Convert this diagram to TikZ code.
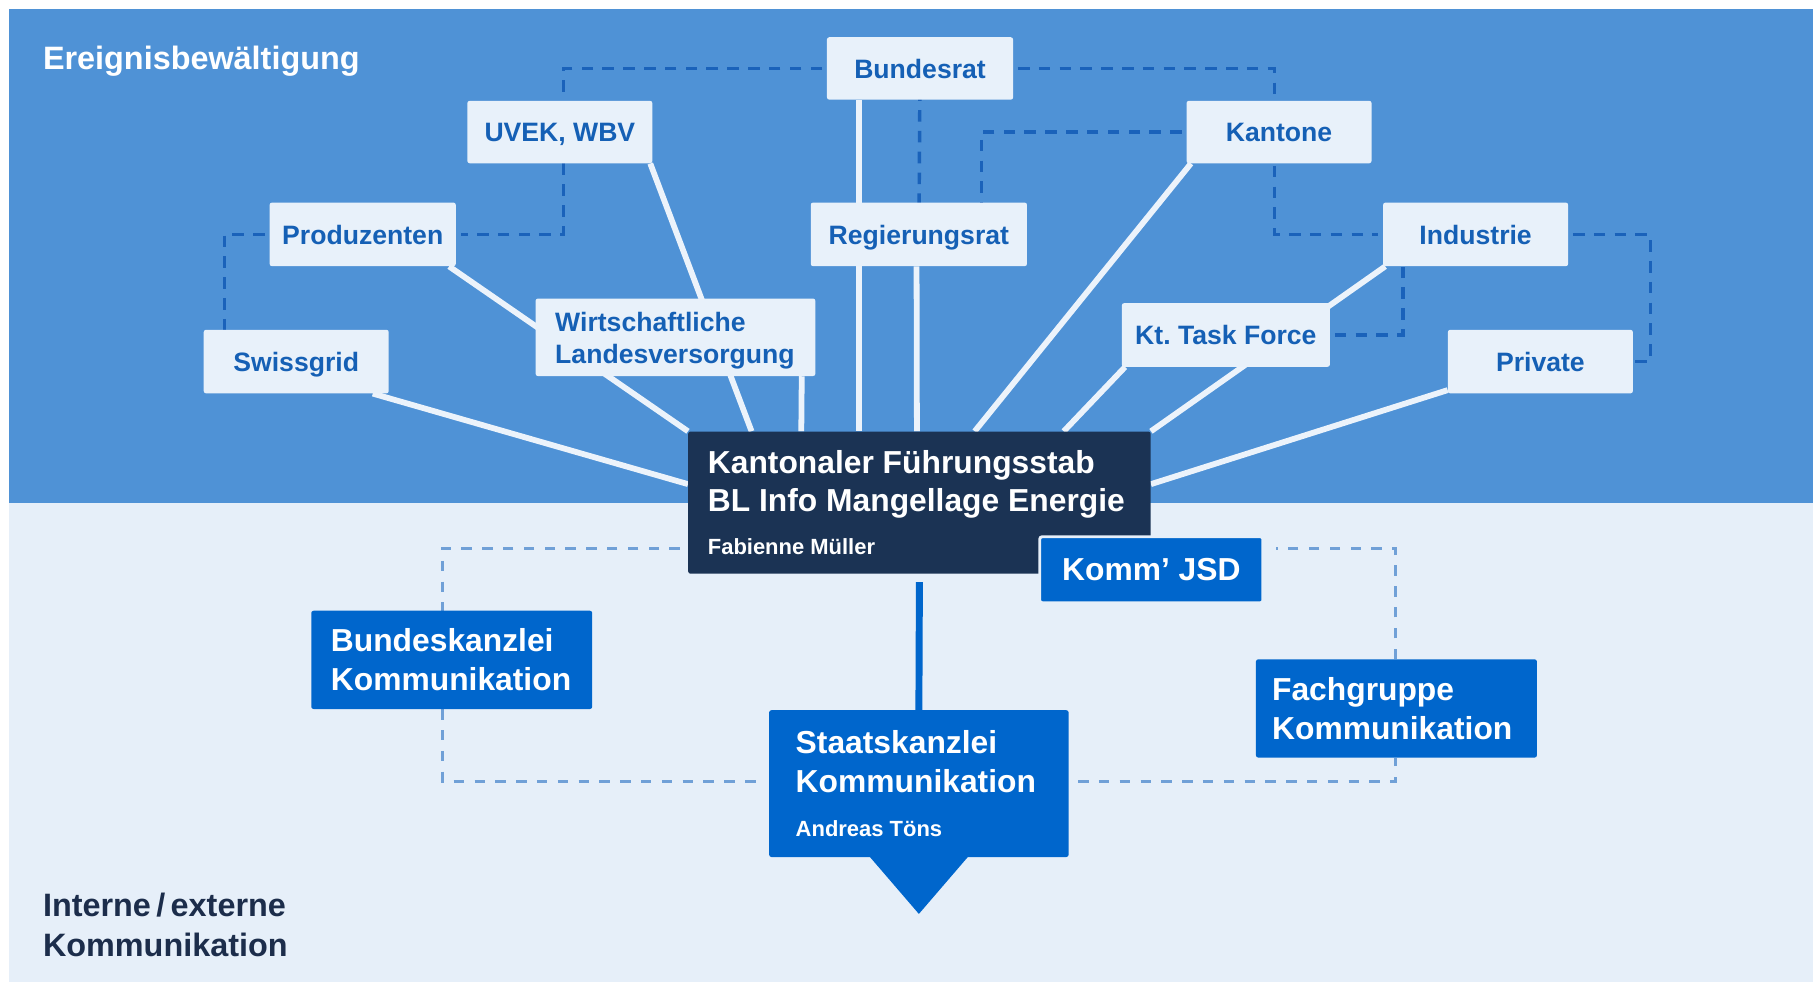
\documentclass[tikz,border=0pt]{standalone}
\usepackage{fontspec}
\setmainfont{Liberation Sans}
\usetikzlibrary{calc}
\setlength{\parindent}{0pt}
\hyphenpenalty=10000 \exhyphenpenalty=10000
\frenchspacing
\newcommand{\normsp}{\spaceskip=0pt\xspaceskip=0pt\relax}
\definecolor{bgTop}{RGB}{79,146,214}
\definecolor{bgBot}{RGB}{230,239,249}
\definecolor{boxLight}{RGB}{232,241,250}
\definecolor{txtBlue}{RGB}{21,96,181}
\definecolor{dashUp}{RGB}{26,98,186}
\definecolor{dashLow}{RGB}{112,160,215}
\definecolor{spokeCol}{RGB}{236,243,251}
\definecolor{boxBlue}{RGB}{0,102,204}
\definecolor{boxDark}{RGB}{27,51,84}
\definecolor{navyText}{RGB}{28,45,75}
\pgfdeclarelayer{bg}
\pgfdeclarelayer{lines}
\pgfsetlayers{bg,lines,main}
\begin{document}
\begin{tikzpicture}[x=1pt,y=-1pt,
  lbox/.style={rectangle, rounded corners=2pt, fill=boxLight, text=txtBlue,
    font=\bfseries\fontsize{23}{28}\selectfont, anchor=north west, inner sep=0pt,
    minimum height=55pt},
  onel/.style={lbox, text height=17pt, text depth=0pt},
  bluebox/.style={rectangle, rounded corners=2pt, fill=boxBlue, text=white,
    font=\bfseries\fontsize{27.5}{34}\selectfont, anchor=north west, inner sep=0pt},
  darkbox/.style={rectangle, rounded corners=2pt, fill=boxDark, text=white,
    font=\bfseries\fontsize{27.5}{33}\selectfont, anchor=north west, inner sep=0pt},
  updash/.style={draw=dashUp, line width=3pt, dash pattern=on 10pt off 8pt},
  lowdash/.style={draw=dashLow, line width=2.5pt, dash pattern=on 9pt off 9pt},
  spoke/.style={draw=spokeCol, line width=5pt},
  heading/.style={anchor=base west, inner sep=0pt, font=\bfseries\fontsize{28}{34}\selectfont}
]
\useasboundingbox (0,0) rectangle (1568,849);
\begin{pgfonlayer}{bg}
  \fill[white] (0,0) rectangle (1568,849);
  \fill[bgTop] (8,8) rectangle (1568,435);
  \fill[bgBot] (8,435) rectangle (1568,849);
\end{pgfonlayer}

% headings
\node[heading, text=white] (title) at (37,60) {Ereignisbewältigung};
\node[heading, text=navyText, align=left] (kommtitle) at (37,827) {\normsp Interne\,/\,externe\\Kommunikation};

% light boxes
\node[onel, minimum width=161pt, minimum height=54pt] (bundesrat) at (715,32) {Bundesrat};
\node[onel, minimum width=160pt, minimum height=54pt] (uvek) at (404,87) {UVEK, WBV};
\node[onel, minimum width=160pt, minimum height=54pt] (kantone) at (1026,87) {Kantone};
\node[onel, minimum width=161pt] (produzenten) at (233,175) {Produzenten};
\node[onel, minimum width=187pt] (regierungsrat) at (701,175) {Regierungsrat};
\node[onel, minimum width=160pt] (industrie) at (1196,175) {Industrie};
\node[onel, minimum width=160pt] (swissgrid) at (176,285) {Swissgrid};
\node[onel, minimum width=180pt] (ktf) at (970,262) {Kt. Task Force};
\node[onel, minimum width=160pt] (private) at (1252,285) {Private};
\node[lbox, minimum height=67pt, text width=208pt, inner xsep=17pt, align=left] (wl) at (463,258)
  {\normsp\rule{0pt}{23pt}Wirtschaftliche\\Landesversorgung};

% central box and blue boxes
\node[darkbox, minimum height=123pt, text width=366pt, inner xsep=17pt, align=left] (kfs) at (595,373)
  {\normsp Kantonaler Führungsstab\\BL Info Mangellage Energie\par\vspace{4pt}\fontsize{19}{23}\selectfont\normsp Fabienne Müller};
\node[bluebox, minimum width=193pt, minimum height=57pt, draw=bgBot, line width=2.5pt] (jsd) at (898,463) {Komm’ JSD};
\node[bluebox, minimum height=85pt, text width=209pt, inner xsep=17pt, align=left] (bk) at (269,528) {Bundeskanzlei\\Kommunikation};
\node[bluebox, minimum height=85pt, text width=215pt, inner xsep=14pt, align=left] (fg) at (1086,570) {Fachgruppe\\Kommunikation};
\node[bluebox, minimum height=127pt, text width=213pt, inner xsep=23pt, align=left] (sk) at (665,614)
  {Staatskanzlei\\Kommunikation\par\vspace{4pt}\fontsize{19}{23}\selectfont\normsp Andreas Töns};
\fill[boxBlue] ($(sk.south)+(-43,-1)$) -- ($(sk.south)+(43,-1)$) -- ($(sk.south)+(0,49)$) -- cycle;

\coordinate (cTL) at (383,474);
\coordinate (cTR) at (1207,474);
\coordinate (cBL) at (383,676);
\coordinate (cBR) at (1207,676);

\begin{pgfonlayer}{lines}
  % upper dashed links
  \draw[updash, shorten <=4pt, shorten >=4pt] (bundesrat.west) -| ($(uvek.center)+(3,0)$) |- (produzenten.east);
  \draw[updash, shorten <=4pt] (produzenten.west) -| ($(swissgrid.north west)+(18,0)$);
  \draw[updash, shorten <=4pt, shorten >=4pt] (bundesrat.east) -| ($(kantone.center)+(-4,0)$) |- (industrie.west);
  \draw[updash] (bundesrat.center) -- (regierungsrat.center);
  \draw[updash, shorten <=4pt] (kantone.west) -| ($(regierungsrat.north)+(54,0)$);
  \draw[updash, shorten <=4pt, shorten >=1pt] (industrie.east) -| ($(private.east)+(15,0)$) -- (private.east);
  \draw[updash, shorten <=4pt] (ktf.east) -| ($(industrie.south)+(-63,0)$);
  % white spokes
  \draw[spoke] ($(swissgrid.south east)+(-14,0)$) -- ($(kfs.west)+(0,-16)$);
  \draw[spoke] ($(produzenten.south east)+(-6,0)$) -- (kfs.north west);
  \draw[spoke] ($(uvek.south east)+(-2,0)$) -- ($(kfs.north west)+(55,0)$);
  \draw[spoke] ($(wl.south east)+(-12,0)$) -- ($(kfs.north west)+(98,0)$);
  \draw[spoke] ($(bundesrat.south west)+(28,0)$) -- ($(kfs.north west)+(148,0)$);
  \draw[spoke] ($(regierungsrat.south)+(-2,0)$) -- ($(kfs.north west)+(198,0)$);
  \draw[spoke] ($(kantone.south west)+(4,0)$) -- ($(kfs.north west)+(248,0)$);
  \draw[spoke] ($(ktf.south west)+(3,0)$) -- ($(kfs.north west)+(325,0)$);
  \draw[spoke] ($(industrie.south west)+(2,0)$) -- (kfs.north east);
  \draw[spoke] ($(private.south west)+(0,-3)$) -- ($(kfs.east)+(0,-16)$);
  % lower dashed frame
  \draw[lowdash, shorten <=7pt] (kfs.west |- cTL) -- (cTL) -- (bk.north -| cTL);
  \draw[lowdash, shorten >=6pt] (bk.south -| cTL) -- (cBL) -- (sk.west |- cBL);
  \draw[lowdash, shorten <=8pt] (sk.east |- cBR) -- (cBR) -- (fg.south -| cBR);
  \draw[lowdash, shorten >=10pt] (fg.north -| cBR) -- (cTR) -- (jsd.east |- cTR);
  % solid link
  \draw[boxBlue, line width=6pt, shorten <=7pt] (kfs.south) -- (sk.north);
\end{pgfonlayer}
\end{tikzpicture}
\end{document}
